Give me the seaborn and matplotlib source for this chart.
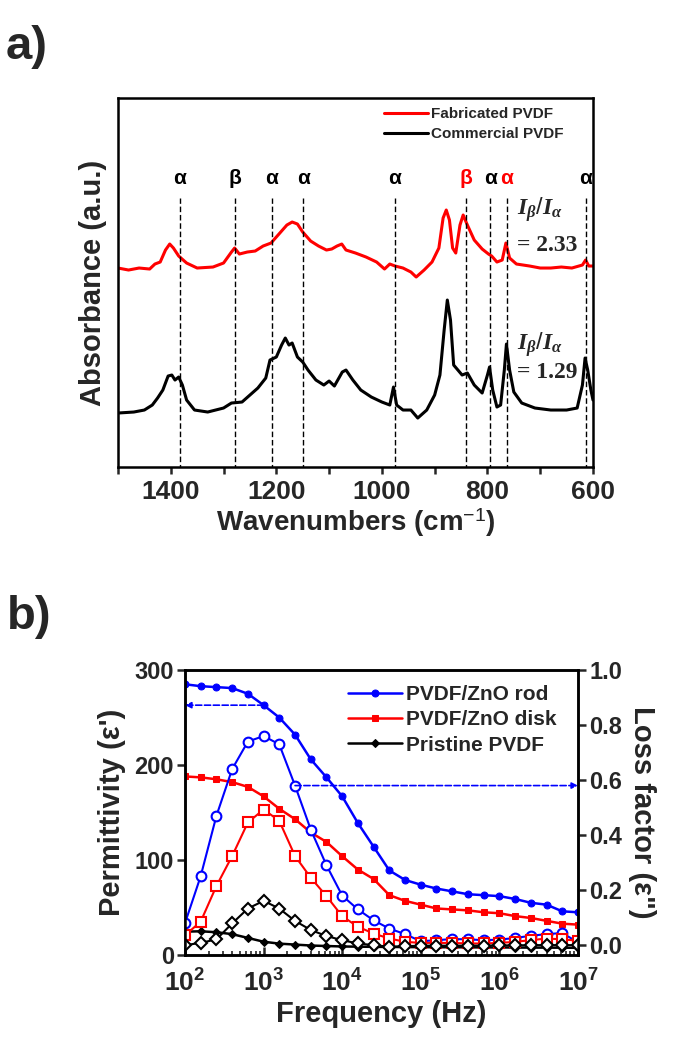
import matplotlib
matplotlib.use('Agg')
import matplotlib.pyplot as plt
import seaborn as sns
from matplotlib.ticker import MultipleLocator, LogLocator, NullFormatter

# ---------------- panel a: FTIR spectra ----------------
wn_fab = [1500, 1480, 1460, 1440, 1430, 1420, 1410, 1402, 1395, 1385, 1370, 1350, 1320, 1300, 1285,
          1279, 1270, 1255, 1240, 1225, 1210, 1195, 1180, 1170, 1160, 1150, 1135, 1120, 1105, 1095,
          1085, 1076, 1068, 1050, 1030, 1010, 995, 985, 975, 960, 945, 935, 920, 905, 892,
          884, 878, 872, 866, 860, 852, 846, 838, 825, 810, 798, 792, 782, 772, 765,
          758, 745, 720, 700, 680, 660, 640, 620, 614, 608, 600]
abs_fab = [2.02, 2.00, 2.02, 2.01, 2.06, 2.08, 2.20, 2.26, 2.22, 2.14, 2.07, 2.02, 2.03, 2.07, 2.18,
           2.22, 2.16, 2.18, 2.19, 2.24, 2.27, 2.36, 2.45, 2.48, 2.46, 2.38, 2.29, 2.24, 2.20, 2.21,
           2.24, 2.26, 2.20, 2.17, 2.13, 2.08, 2.01, 2.06, 2.04, 2.02, 1.98, 1.93, 2.00, 2.08, 2.22,
           2.52, 2.60, 2.50, 2.22, 2.17, 2.45, 2.55, 2.45, 2.30, 2.21, 2.16, 2.14, 2.08, 2.10, 2.27,
           2.12, 2.06, 2.04, 2.02, 2.02, 2.03, 2.02, 2.05, 2.10, 2.04, 2.04]

wn_com = [1500, 1470, 1450, 1435, 1425, 1415, 1405, 1398, 1392, 1385, 1378, 1370, 1355, 1330, 1300,
          1285, 1265, 1250, 1235, 1220, 1212, 1200, 1190, 1183, 1176, 1170, 1160, 1150, 1140, 1125,
          1110, 1100, 1090, 1075, 1068, 1055, 1040, 1020, 1000, 985, 978, 972, 960, 945, 932,
          915, 900, 890, 882, 876, 870, 864, 856, 848, 838, 825, 810, 800, 796, 790,
          782, 775, 768, 764, 758, 750, 735, 710, 680, 650, 630, 620, 615, 610, 604, 600]
abs_com = [0.57, 0.58, 0.60, 0.65, 0.72, 0.80, 0.94, 0.95, 0.90, 0.93, 0.85, 0.70, 0.60, 0.58, 0.62,
           0.67, 0.68, 0.75, 0.82, 0.92, 1.10, 1.13, 1.25, 1.32, 1.25, 1.27, 1.13, 1.08, 1.00, 0.90,
           0.85, 0.89, 0.84, 0.98, 1.00, 0.90, 0.80, 0.73, 0.68, 0.65, 0.83, 0.65, 0.60, 0.60, 0.52,
           0.60, 0.75, 0.95, 1.40, 1.70, 1.50, 1.05, 1.00, 0.95, 0.97, 0.85, 0.77, 0.95, 1.03, 0.80,
           0.63, 0.65, 1.00, 1.26, 1.00, 0.78, 0.67, 0.62, 0.60, 0.60, 0.62, 0.85, 1.12, 1.00, 0.80, 0.70]

peak_wn = [1383, 1279, 1209, 1149, 976, 840, 795, 763, 614]
peak_lab = ['α', 'β', 'α', 'α', 'α', 'β', 'α', 'α', 'α']
peak_col = ['black', 'black', 'black', 'black', 'black', 'red', 'black', 'red', 'black']
ratios = ['= 2.33', '= 1.29']

# ---------------- panel b: dielectric spectra ----------------
freq = [1e2, 1.58e2, 2.51e2, 3.98e2, 6.31e2, 1e3, 1.58e3, 2.51e3, 3.98e3, 6.31e3,
        1e4, 1.58e4, 2.51e4, 3.98e4, 6.31e4, 1e5, 1.58e5, 2.51e5, 3.98e5, 6.31e5,
        1e6, 1.58e6, 2.51e6, 3.98e6, 6.31e6, 1e7]
eps_rod = [285, 283, 282, 281, 275, 263, 250, 232, 206, 187, 167, 139, 114, 89, 79, 74, 70, 67, 64, 63,
           62, 59, 55, 53, 46, 45]
eps_disk = [188, 187, 185, 182, 177, 167, 154, 143, 129, 119, 104, 90, 80, 63, 57, 53, 49, 48, 47, 45,
            44, 41, 39, 36, 33, 32]
eps_pure = [24.6, 25, 24, 22, 18, 14, 12, 11, 10, 9.5, 9, 8.8, 8.6, 8.5, 8.4, 8.3, 8.2, 8.2, 8.1, 8.0,
            8.0, 7.9, 7.8, 7.8, 7.7, 7.6]
loss_rod = [0.08, 0.25, 0.47, 0.64, 0.74, 0.76, 0.73, 0.58, 0.42, 0.29, 0.18, 0.13, 0.09, 0.06, 0.04,
            0.014, 0.018, 0.022, 0.021, 0.018, 0.02, 0.026, 0.034, 0.04, 0.044, 0.01]
loss_disk = [0.036, 0.085, 0.215, 0.324, 0.446, 0.493, 0.452, 0.324, 0.245, 0.178, 0.105, 0.067, 0.042,
             0.024, 0.012, 0.008, 0.008, 0.008, 0.006, 0.006, 0.008, 0.012, 0.018, 0.024, 0.021, 0.016]
loss_pure = [0.0, 0.008, 0.021, 0.079, 0.133, 0.161, 0.133, 0.088, 0.055, 0.033, 0.018, 0.006, 0.0,
             -0.006, -0.004, -0.002, -0.002, -0.002, -0.002, -0.002, -0.001, -0.001, 0.0, 0.0, 0.0, 0.0]
series_names = ['PVDF/ZnO rod', 'PVDF/ZnO disk', 'Pristine PVDF']
xtick_vals = [1e2, 1e3, 1e4, 1e5, 1e6, 1e7]
xtick_labels = [r'$\mathbf{10^{2}}$', r'$\mathbf{10^{3}}$', r'$\mathbf{10^{4}}$',
                r'$\mathbf{10^{5}}$', r'$\mathbf{10^{6}}$', r'$\mathbf{10^{7}}$']
left_ticks = [0, 100, 200, 300]
right_ticks = [0.0, 0.2, 0.4, 0.6, 0.8, 1.0]

sns.set_theme(style='ticks')
plt.rcParams['font.family'] = ['Liberation Sans', 'DejaVu Sans']
plt.rcParams['mathtext.fontset'] = 'custom'
plt.rcParams['mathtext.rm'] = 'Liberation Sans'
plt.rcParams['mathtext.bf'] = 'Liberation Sans:bold'
plt.rcParams['mathtext.sf'] = 'Liberation Sans'
plt.rcParams['mathtext.it'] = 'Liberation Serif:italic:bold'

RED = '#ff0000'
BLUE = '#0000ff'

fig = plt.figure(figsize=(6.75, 10.54), dpi=100)

# ---- panel a ----
ax1 = fig.add_axes([0.1748, 0.5569, 0.7037, 0.3501])
sns.lineplot(x=wn_fab, y=abs_fab, ax=ax1, color=RED, lw=2.2, sort=False, estimator=None,
             label='Fabricated PVDF')
sns.lineplot(x=wn_com, y=abs_com, ax=ax1, color='black', lw=2.2, sort=False, estimator=None,
             label='Commercial PVDF')
ax1.vlines(peak_wn, 0, 2.72, colors='black', linestyles=(0, (4, 2)), lw=1)
for w, lab, c in zip(peak_wn, peak_lab, peak_col):
    ax1.text(w, 2.92, lab, color=c, ha='center', va='center', fontsize=15, fontweight='bold')

ax1.text(744, 2.60, r'$I_{\beta}/I_{\alpha}$', fontsize=17, ha='left', va='center')
ax1.text(744, 2.25, ratios[0], fontsize=17, ha='left', va='center',
         family='Liberation Serif', weight='bold')
ax1.text(744, 1.25, r'$I_{\beta}/I_{\alpha}$', fontsize=17, ha='left', va='center')
ax1.text(744, 0.98, ratios[1], fontsize=17, ha='left', va='center',
         family='Liberation Serif', weight='bold')

ax1.set_xlim(1500, 600)
ax1.set_ylim(0.03, 3.72)
ax1.set_yticks([])
ax1.xaxis.set_major_locator(MultipleLocator(200))
ax1.xaxis.set_minor_locator(MultipleLocator(100))
ax1.tick_params(axis='x', which='both', direction='out', length=5, width=1.8, labelsize=19, pad=4)
for t in ax1.get_xticklabels():
    t.set_fontweight('bold')
for s in ax1.spines.values():
    s.set_linewidth(1.8)
    s.set_color('black')
ax1.set_xlabel(r'Wavenumbers (cm$^{\mathsf{-1}}$)', fontsize=20, fontweight='bold', labelpad=2)
ax1.set_ylabel('Absorbance (a.u.)', fontsize=21, fontweight='bold', labelpad=8)
ax1.legend(loc='upper left', bbox_to_anchor=(0.56, 0.975), frameon=False,
           prop={'size': 11, 'weight': 'bold'}, handlelength=2.9, handletextpad=0.2,
           labelspacing=0.4, borderpad=0, borderaxespad=0)

# ---- panel b ----
ax2 = fig.add_axes([0.2741, 0.0939, 0.5822, 0.2704])
ax3 = ax2.twinx()
ax2.set_xscale('log')

eps_sets = [(eps_rod, BLUE, 'o', 5), (eps_disk, RED, 's', 4.5), (eps_pure, 'black', 'D', 4)]
loss_sets = [(loss_rod, BLUE, 'o', 7), (loss_disk, RED, 's', 6.5), (loss_pure, 'black', 'D', 6)]
handles = []
for (vals, c, m, ms), name in zip(eps_sets, series_names):
    sns.lineplot(x=freq, y=vals, ax=ax2, color=c, marker=m, markersize=ms, mec=c, mfc=c,
                 lw=1.8, estimator=None)
    handles.append(ax2.lines[-1])
for vals, c, m, ms in loss_sets:
    sns.lineplot(x=freq, y=vals, ax=ax3, color=c, marker=m, markersize=ms, mec=c, mfc='white',
                 mew=1.5, lw=1.5, estimator=None)

# dashed guide arrows
ax2.annotate('', xy=(freq[0], eps_rod[5]), xytext=(freq[5], eps_rod[5]),
             arrowprops=dict(arrowstyle='-|>', color=BLUE, lw=1.2, ls='--',
                             mutation_scale=9, shrinkA=0, shrinkB=0))
ax3.annotate('', xy=(freq[-1], loss_rod[7]), xytext=(freq[7], loss_rod[7]),
             arrowprops=dict(arrowstyle='-|>', color=BLUE, lw=1.2, ls='--',
                             mutation_scale=9, shrinkA=0, shrinkB=0))

ax2.set_xlim(1e2, 1e7)
ax2.set_ylim(0, 300)
ax3.set_ylim(-0.036, 1.0)
ax2.set_xticks(xtick_vals)
ax2.set_xticklabels(xtick_labels)
ax2.xaxis.set_minor_locator(LogLocator(base=10, subs=range(2, 10), numticks=20))
ax2.xaxis.set_minor_formatter(NullFormatter())
ax2.set_yticks(left_ticks)
ax2.set_yticklabels([str(v) for v in left_ticks])
ax3.set_yticks(right_ticks)
ax3.set_yticklabels([f'{v:.1f}' for v in right_ticks])
ax2.tick_params(axis='x', which='major', direction='in', length=6, width=1.8, labelsize=19, pad=10)
ax2.tick_params(axis='x', which='minor', direction='in', length=3, width=1.2)
ax2.tick_params(axis='y', direction='out', length=6, width=1.8, labelsize=17, pad=2)
ax3.tick_params(axis='y', direction='out', length=6, width=1.8, labelsize=17, pad=2)
for t in ax2.get_yticklabels() + ax3.get_yticklabels():
    t.set_fontweight('bold')
for a in (ax2, ax3):
    for s in a.spines.values():
        s.set_linewidth(1.8)
        s.set_color('black')
ax2.set_xlabel('Frequency (Hz)', fontsize=21, fontweight='bold', labelpad=3)
ax2.set_ylabel("Permittivity (ε')", fontsize=21, fontweight='bold', labelpad=6)
ax3.set_ylabel('Loss factor (ε")', fontsize=21, fontweight='bold', rotation=270,
               va='bottom', labelpad=4)
leg = ax3.legend(handles, series_names, loc='upper left', bbox_to_anchor=(0.415, 0.947),
                 frameon=False, prop={'size': 15, 'weight': 'bold'}, handlelength=2.6,
                 handletextpad=0.2, labelspacing=0.3, borderpad=0, borderaxespad=0)

fig.text(0.008, 1 - 47 / 1054, 'a)', fontsize=34, fontweight='bold', va='center')
fig.text(0.01, 1 - 617 / 1054, 'b)', fontsize=34, fontweight='bold', va='center')

fig.savefig('out.png', dpi=100)
